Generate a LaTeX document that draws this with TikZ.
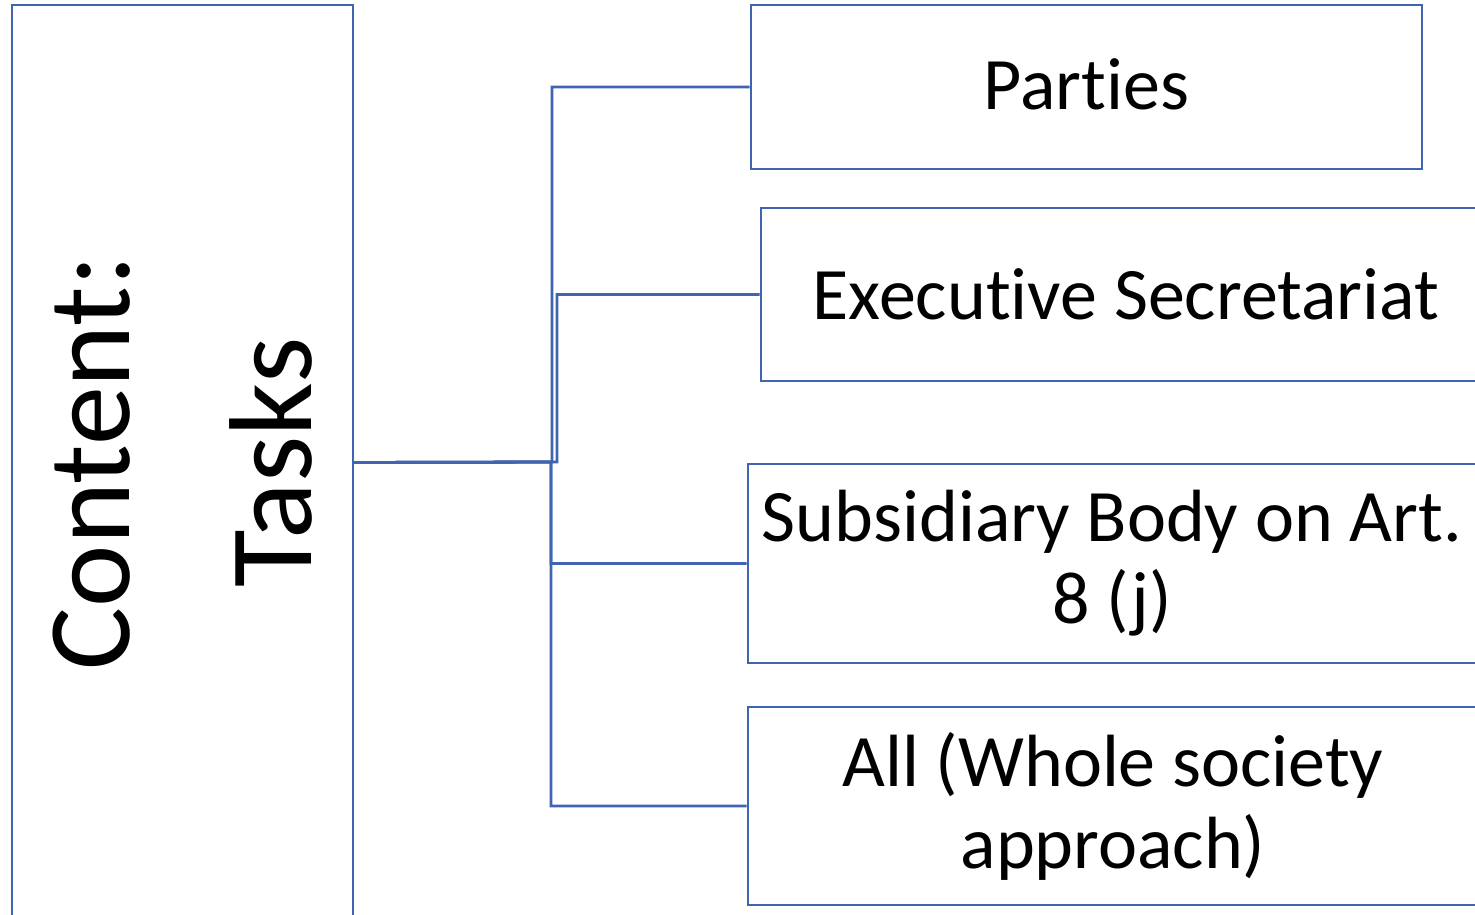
\documentclass[tikz,border=0pt]{standalone}
\usepackage{fontspec}
\setmainfont[RawFeature={-liga;-clig;-calt;-dlig}]{Carlito}
\newcommand{\nolig}{\kern0pt\relax}
\definecolor{lineblue}{RGB}{64,100,176}
\begin{document}
\begin{tikzpicture}[x=1pt,y=-1pt,
  box/.style={draw=lineblue, line width=2.8pt, fill=white, inner sep=0pt, align=center, text=black},
  conn/.style={draw=lineblue, line width=2.8pt},
  rtext/.style={font=\fontsize{74}{82}\selectfont}]
\useasboundingbox (0,0) rectangle (1475,915);
\clip (0,0) rectangle (1475,915);
\fill[white] (0,0) rectangle (1475,915);
% left box
\node[box, rotate=90, minimum width=915pt, minimum height=341pt,
      font=\fontsize{118}{182}\selectfont] (tasks) at (182.5,462.5) {Content:\\Tasks};
% right boxes
\node[box, minimum width=671pt, minimum height=164pt, rtext, text depth=6pt] (parties) at (1086.5,87) {Part\nolig ies};
\node[box, minimum width=730pt, minimum height=173pt, rtext] (exec) at (1126,294.5) {Execut\nolig ive Secretariat};
\node[box, minimum width=728pt, minimum height=199pt, rtext] (sub) at (1112,563.5) {Subsidiary Body on Art.\\8 (j)};
\node[box, minimum width=730pt, minimum height=198pt, rtext] (all) at (1113,806) {All (Whole society\\approach)};
% bend points
\coordinate (b1) at (552,462);
\coordinate (b2) at (557,462);
\coordinate (b3) at (551,462);
% connectors
\draw[conn] (tasks.south) -- (b1) |- (parties.west);
\draw[conn] (tasks.south) -- (b2) |- (exec.west);
\draw[conn] (tasks.south) -- (b3) |- (sub.west);
\draw[conn] (tasks.south) -- (b3) |- (all.west);
\end{tikzpicture}
\end{document}
